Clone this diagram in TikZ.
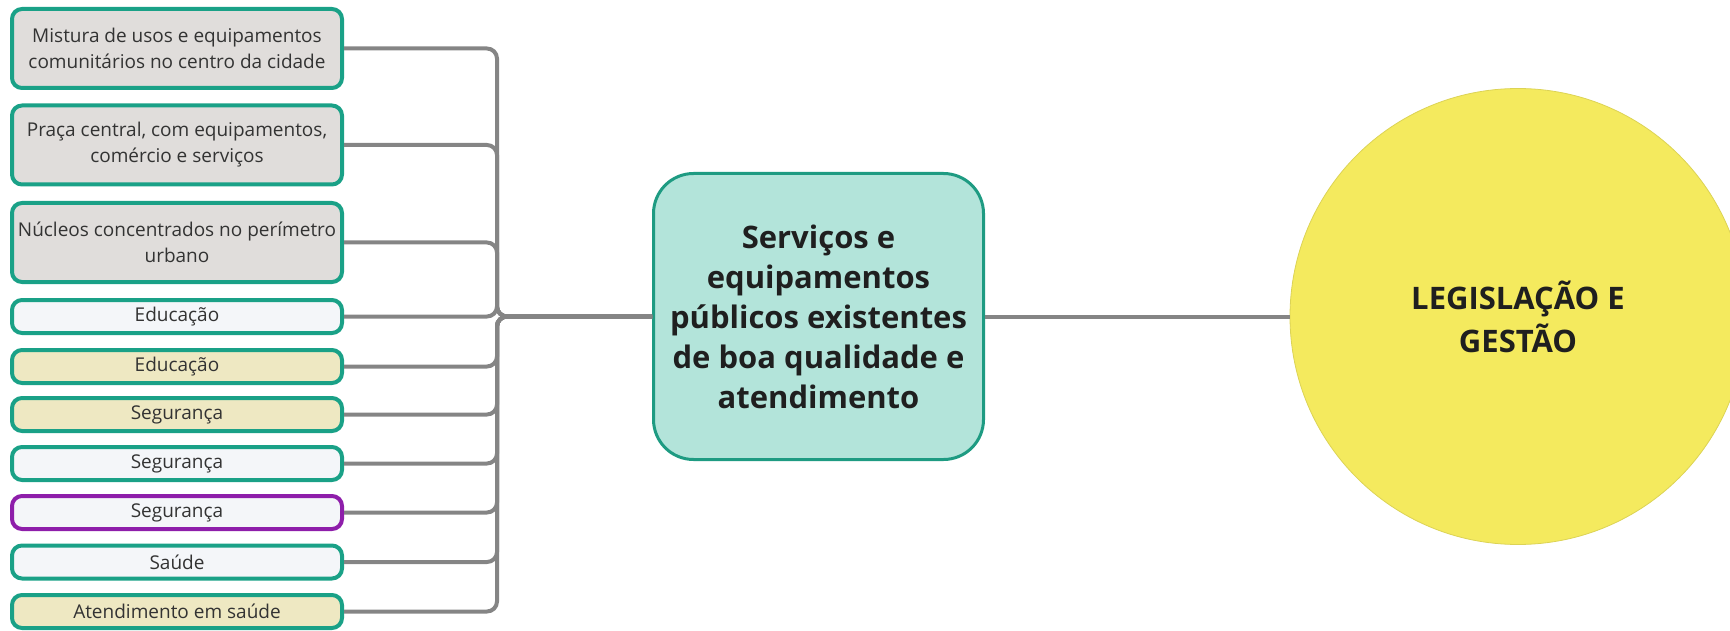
\documentclass[tikz,border=0pt]{standalone}
\usepackage{fontspec}
\setmainfont{Open Sans}

\definecolor{borda}{HTML}{1AA187}
\definecolor{roxo}{HTML}{8E1EAA}
\definecolor{cinzafundo}{HTML}{E0DDDB}
\definecolor{brancofundo}{HTML}{F4F6F9}
\definecolor{bege}{HTML}{EEE8C2}
\definecolor{cinza}{HTML}{858585}
\definecolor{texto}{HTML}{333333}
\definecolor{verdeclaro}{HTML}{B3E4DA}
\definecolor{verdeborda}{HTML}{1E9B82}
\definecolor{amarelo}{HTML}{F4EA5E}

\begin{document}
\begin{tikzpicture}[x=1pt,y=-1pt]
\tikzstyle{item} = [draw=borda, line width=4pt, rounded corners=10pt, minimum width=330pt, inner xsep=5pt, inner ysep=0pt, align=center, text=texto, font=\fontsize{19}{26}\selectfont]
\tikzstyle{alto} = [item, minimum height=79pt, fill=cinzafundo]
\tikzstyle{baixo} = [item, minimum height=33pt]
\tikzstyle{ramo} = [draw=cinza, line width=4pt, rounded corners=10pt]

\useasboundingbox (0,0) rectangle (1730,631);

% ramos da esquerda
\node[alto] (mistura) at (177,48.5) {Mistura de usos e equipamentos\\comunitários no centro da cidade};
\node[alto] (praca) at (177,145) {Praça central, com equipamentos,\\comércio e serviços};
\node[alto] (nucleos) at (177,242.5) {Núcleos concentrados no perímetro\\urbano};
\node[baixo, fill=brancofundo] (edu1) at (177,316.5) {Educação};
\node[baixo, fill=bege] (edu2) at (177,366.5) {Educação};
\node[baixo, fill=bege] (seg1) at (177,414.5) {Segurança};
\node[baixo, fill=brancofundo] (seg2) at (177,463.5) {Segurança};
\node[baixo, fill=brancofundo, draw=roxo] (seg3) at (177,512.5) {Segurança};
\node[baixo, fill=brancofundo] (saude) at (177,562) {Saúde};
\node[baixo, fill=bege] (atend) at (177,611.5) {Atendimento em saúde};

% tema central
\node[draw=verdeborda, fill=verdeclaro, line width=3pt, rounded corners=40pt, minimum width=330pt, minimum height=286pt, align=center, text=black!88, font=\fontsize{31}{40}\selectfont\bfseries] (centro) at (818.5,316.5) {Serviços e\\equipamentos\\públicos existentes\\de boa qualidade e\\atendimento};

\node[circle, fill=amarelo, draw=amarelo!90!black, line width=0.8pt, minimum size=456pt, align=center, text=black!88, font=\fontsize{31}{43}\selectfont\bfseries] (legis) at (1518,316.5) {LEGISLAÇÃO E\\GESTÃO};

\coordinate (hub) at (497,316.5);

\foreach \b in {mistura,praca,nucleos,edu1,edu2,seg1,seg2,seg3,saude,atend}
  \draw[ramo] (\b.east) -| (hub) -- (centro.west);

\draw[ramo] (centro.east) -- (legis.west);

\end{tikzpicture}
\end{document}
